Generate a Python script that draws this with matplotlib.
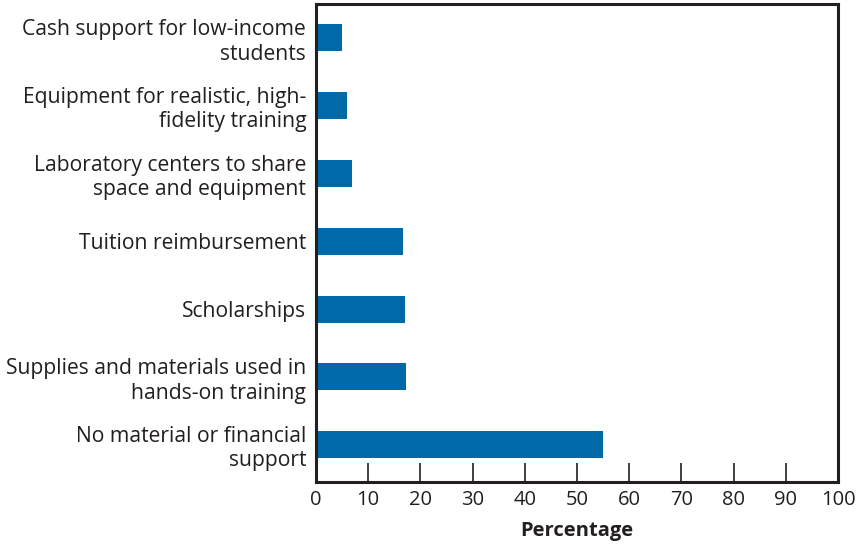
import matplotlib
matplotlib.use("Agg")
import matplotlib.pyplot as plt

# Categories top to bottom, with their share in percent
CATEGORIES = [
    "Cash support for low-income\nstudents",
    "Equipment for realistic, high-\nfidelity training",
    "Laboratory centers to share\nspace and equipment",
    "Tuition reimbursement",
    "Scholarships",
    "Supplies and materials used in\nhands-on training",
    "No material or financial\nsupport",
]
PERCENTAGES = [5, 6, 7, 16.7, 17, 17.2, 55]
X_TICKS = list(range(0, 101, 10))

BAR_COLOR = "#006aa9"
INK = "#231f20"

plt.rcParams["font.family"] = ["Open Sans", "DejaVu Sans"]

fig = plt.figure(figsize=(8.56, 5.45), dpi=100)
ax = fig.add_axes([0.369, 0.1156, 0.61, 0.877])

positions = list(range(len(CATEGORIES)))[::-1]
ax.barh(positions, PERCENTAGES, height=0.4, color=BAR_COLOR, zorder=2)

ax.set_xlim(0, 100)
ax.set_ylim(-0.55, 6.5)
ax.set_xticks(X_TICKS)
ax.set_xticklabels([str(t) for t in X_TICKS], fontsize=14.5, color=INK)
ax.set_yticks(positions)
ax.set_yticklabels(CATEGORIES, fontsize=15.2, color=INK, linespacing=1.2)

ax.tick_params(axis="x", direction="in", length=14, width=1.2, color=INK, pad=6)
ax.tick_params(axis="y", length=0, pad=7)

for side in ["left", "right", "top", "bottom"]:
    ax.spines[side].set_color(INK)
    ax.spines[side].set_linewidth(2.2)

ax.set_xlabel("Percentage", fontsize=14.5, fontweight="bold", color=INK, labelpad=8)

fig.savefig("out.png", dpi=100)
